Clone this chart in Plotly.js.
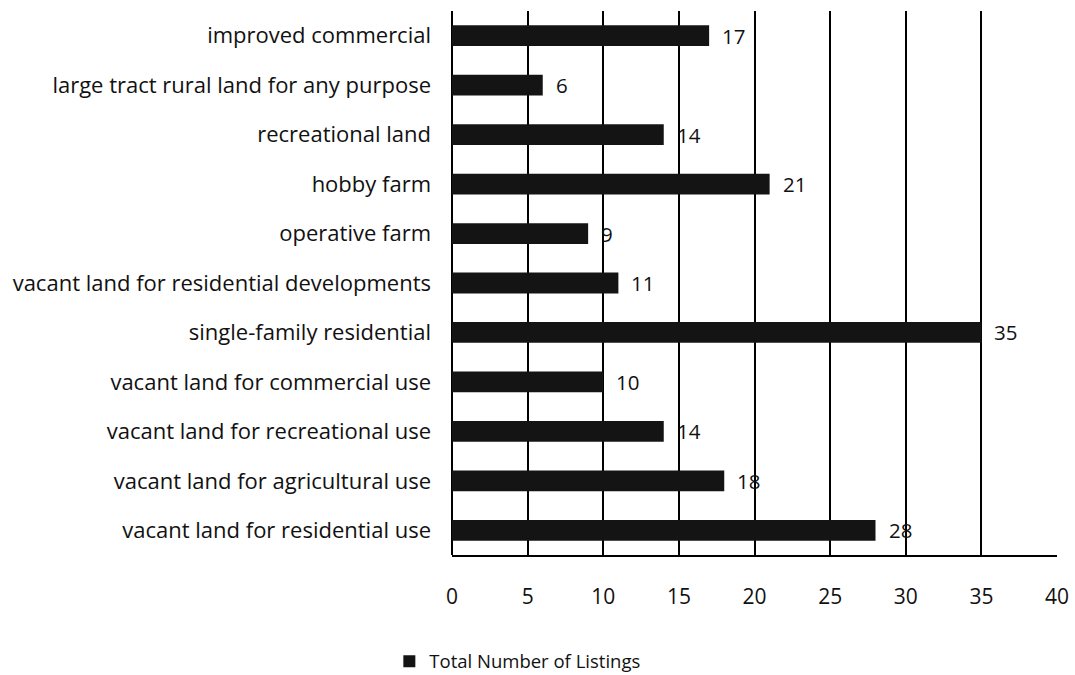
<!DOCTYPE html>
<html><head><meta charset="utf-8">
<script src="https://cdn.plot.ly/plotly-3.0.1.min.js"></script>
<style>body{margin:0;background:#fff}#c{width:1075px;height:675px}</style>
</head><body><div id="c"></div>
<script>
const categories = [
  "improved commercial",
  "large tract rural land for any purpose",
  "recreational land",
  "hobby farm",
  "operative farm",
  "vacant land for residential developments",
  "single-family residential",
  "vacant land for commercial use",
  "vacant land for recreational use",
  "vacant land for agricultural use",
  "vacant land for residential use"
];
const listings = [17, 6, 14, 21, 9, 11, 35, 10, 14, 18, 28];
const xTicks = [0, 5, 10, 15, 20, 25, 30, 35, 40];
const seriesName = "Total Number of Listings";

const fontFam = "'Open Sans', Lato, sans-serif";
const trace = {
  type: "bar", orientation: "h",
  y: categories, x: listings,
  name: seriesName,
  marker: {color: "#141414", line: {width: 0}},
  hoverinfo: "x+y"
};
const annotations = categories.map((c, i) => ({
  x: listings[i], y: c, xref: "x", yref: "y",
  text: String(listings[i]), showarrow: false,
  xanchor: "left", xshift: 11,
  font: {family: fontFam, size: 20.5, color: "#111"}
}));
const layout = {
  width: 1075, height: 675,
  margin: {l: 452, r: 18, t: 11, b: 120, autoexpand: false},
  paper_bgcolor: "#fff", plot_bgcolor: "#fff",
  bargap: 0.58,
  showlegend: true,
  legend: {orientation: "h", x: 0.108, xanchor: "center", y: -0.196, yanchor: "middle",
           itemwidth: 30,
           font: {family: fontFam, size: 18.5, color: "#111"}},
  xaxis: {range: [0, 40], tickvals: xTicks, ticktext: xTicks.map(String),
          showgrid: true, gridcolor: "#000", gridwidth: 2,
          zeroline: true, zerolinecolor: "#000", zerolinewidth: 2,
          showline: true, linecolor: "#000", linewidth: 2, mirror: false,
          ticks: "", ticklabelstandoff: 22,
          tickfont: {family: fontFam, size: 21, color: "#111"}, fixedrange: true},
  yaxis: {autorange: "reversed", type: "category", ticks: "", showgrid: false,
          showline: false, zeroline: false, ticklabelstandoff: 20,
          tickfont: {family: fontFam, size: 22, color: "#111"}, fixedrange: true},
  annotations: annotations
};
Plotly.newPlot("c", [trace], layout, {displayModeBar: false, staticPlot: true});
</script></body></html>
